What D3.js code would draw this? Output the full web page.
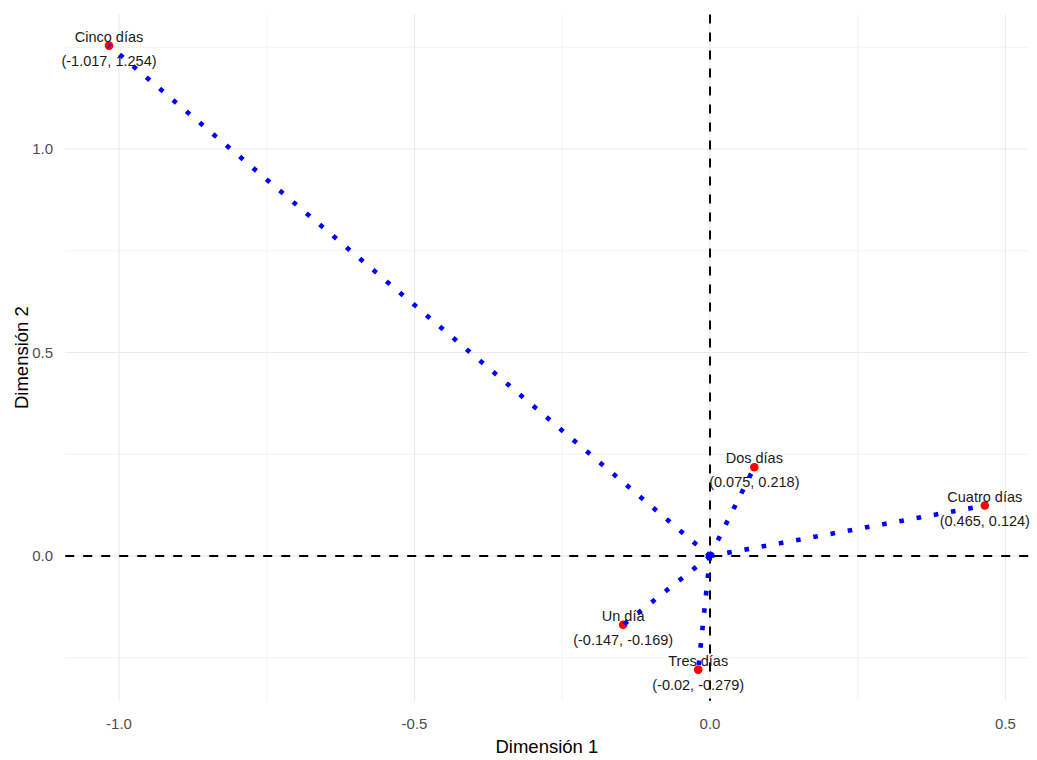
<!DOCTYPE html>
<html><head><meta charset="utf-8">
<script src="https://cdn.jsdelivr.net/npm/d3@7"></script>
<style>body{margin:0;background:#fff;} svg{display:block;font-family:"Liberation Sans",Arial,sans-serif;}</style>
</head><body>
<script>
const categories = ["Un día", "Dos días", "Tres días", "Cuatro días", "Cinco días"];
const dim1 = [-0.147, 0.075, -0.02, 0.465, -1.017];
const dim2 = [-0.169, 0.218, -0.279, 0.124, 1.254];
const xTicks = [-1.0, -0.5, 0.0, 0.5];
const yTicks = [0.0, 0.5, 1.0];
const xMinor = [-0.75, -0.25, 0.25];
const yMinor = [-0.25, 0.25, 0.75, 1.25];

const W = 1037, H = 760;
const svg = d3.select("body").append("svg").attr("width", W).attr("height", H);

const xr = d3.extent(dim1), yr = d3.extent(dim2);
const xe = (xr[1]-xr[0])*0.05, ye = (yr[1]-yr[0])*0.05;
const x = d3.scaleLinear().domain([xr[0]-xe, xr[1]+xe]).range([65.2, 1028.6]);
const y = d3.scaleLinear().domain([yr[0]-ye, yr[1]+ye]).range([700.8, 14.4]);
const [x0, x1] = x.range(), [y0, y1] = y.range();

const data = categories.map((c,i)=>({name:c, d1:dim1[i], d2:dim2[i]}));

// grid
const g = svg.append("g");
g.selectAll(".vmin").data(xMinor).join("line")
  .attr("x1", d=>x(d)).attr("x2", d=>x(d)).attr("y1", y0).attr("y2", y1)
  .attr("stroke", "#f2f2f2").attr("stroke-width", 1);
g.selectAll(".hmin").data(yMinor).join("line")
  .attr("y1", d=>y(d)).attr("y2", d=>y(d)).attr("x1", x0).attr("x2", x1)
  .attr("stroke", "#f2f2f2").attr("stroke-width", 1);
g.selectAll(".vmaj").data(xTicks).join("line")
  .attr("x1", d=>x(d)).attr("x2", d=>x(d)).attr("y1", y0).attr("y2", y1)
  .attr("stroke", "#ebebeb").attr("stroke-width", 1.2);
g.selectAll(".hmaj").data(yTicks).join("line")
  .attr("y1", d=>y(d)).attr("y2", d=>y(d)).attr("x1", x0).attr("x2", x1)
  .attr("stroke", "#ebebeb").attr("stroke-width", 1.2);

// reference dashed lines
svg.append("line").attr("x1", x0).attr("x2", x1).attr("y1", y(0)).attr("y2", y(0))
  .attr("stroke", "#000").attr("stroke-width", 2).attr("stroke-dasharray", "9 9");
svg.append("line").attr("x1", x(0)).attr("x2", x(0)).attr("y1", y1).attr("y2", y0)
  .attr("stroke", "#000").attr("stroke-width", 2).attr("stroke-dasharray", "9 9");

// points
svg.selectAll(".pt").data(data).join("circle")
  .attr("cx", d=>x(d.d1)).attr("cy", d=>y(d.d2)).attr("r", 4.3).attr("fill", "#ff0000");

// dotted segments from origin
svg.selectAll(".seg").data(data).join("line")
  .attr("x1", x(0)).attr("y1", y(0)).attr("x2", d=>x(d.d1)).attr("y2", d=>y(d.d2))
  .attr("stroke", "#0000ff").attr("stroke-width", 4.6).attr("stroke-dasharray", "4.6 12.9");

// labels
svg.selectAll(".nm").data(data).join("text")
  .attr("x", d=>x(d.d1)).attr("y", d=>y(d.d2)-4).attr("text-anchor", "middle")
  .attr("font-size", 14.5).attr("fill", "#1a1a1a").text(d=>d.name);
svg.selectAll(".co").data(data).join("text")
  .attr("x", d=>x(d.d1)).attr("y", d=>y(d.d2)+20).attr("text-anchor", "middle")
  .attr("font-size", 14.5).attr("fill", "#1a1a1a").text(d=>`(${d.d1}, ${d.d2})`);

// axes tick labels
const fmt = d3.format(".1f");
svg.selectAll(".xt").data(xTicks).join("text")
  .attr("x", d=>x(d)).attr("y", 729).attr("text-anchor", "middle")
  .attr("font-size", 15).attr("fill", "#4d4d4d").text(d=>fmt(d).replace("−","-"));
svg.selectAll(".yt").data(yTicks).join("text")
  .attr("x", 53).attr("y", d=>y(d)+5.3).attr("text-anchor", "end")
  .attr("font-size", 15).attr("fill", "#4d4d4d").text(d=>fmt(d).replace("−","-"));

// axis titles
svg.append("text").attr("x", (x0+x1)/2).attr("y", 753).attr("text-anchor", "middle")
  .attr("font-size", 18.5).attr("fill", "#000").text("Dimensión 1");
svg.append("text").attr("transform", `translate(28,${(y0+y1)/2}) rotate(-90)`)
  .attr("text-anchor", "middle").attr("font-size", 18.5).attr("fill", "#000").text("Dimensión 2");
</script>
</body></html>
